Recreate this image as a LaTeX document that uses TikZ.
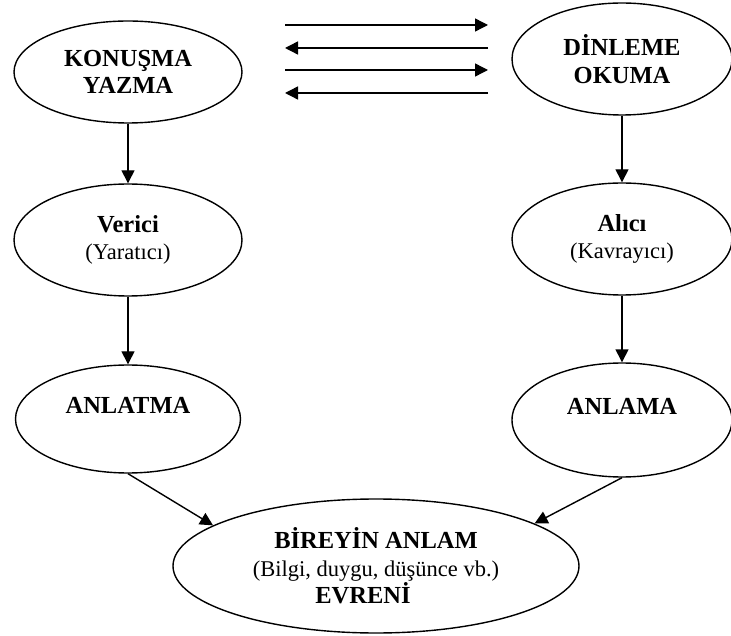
\documentclass[tikz,border=0pt]{standalone}
\usepackage{fontspec}
\setmainfont{Liberation Serif}
\usetikzlibrary{positioning,arrows.meta,shapes.geometric}
\newcommand{\regtxt}[1]{{\fontsize{22.5}{27.5}\selectfont\mdseries #1}}

\begin{document}
\begin{tikzpicture}[
  x=10pt, y=10pt,
  oval/.style={ellipse, draw=black, line width=1.4pt, align=center, inner sep=0pt,
    font=\fontsize{24.5}{27.5}\selectfont\bfseries},
  flow/.style={draw=black, line width=1.4pt, -{Triangle[length=13pt, width=13pt]}}
]
\useasboundingbox (0,0) rectangle (73.1,-63.6);

\node[oval, minimum width=228pt, minimum height=102pt] (kon) at (12.8, -7.2) {KONUŞMA\\YAZMA};
\node[oval, minimum width=220pt, minimum height=112pt] (din) at (62.2, -5.9) {DİNLEME\\OKUMA};
\node[oval, minimum width=228pt, minimum height=112pt] (ver) at (12.8, -24.0) {Verici\\\regtxt{(Yaratıcı)}};
\node[oval, minimum width=220pt, minimum height=112pt] (alc) at (62.2, -23.9) {Alıcı\\\regtxt{(Kavrayıcı)}};
\node[oval, minimum width=225pt, minimum height=108pt] (anlt) at (12.8, -41.9) {ANLATMA\\\mbox{}};
\node[oval, minimum width=220pt, minimum height=114pt] (anlm) at (62.2, -42.0) {ANLAMA\\\mbox{}};
\node[oval, minimum width=406pt, minimum height=134pt] (bir) at (37.6, -56.6)
  {BİREYİN ANLAM\\\regtxt{(Bilgi, duygu, düşünce vb.)}\\\hbox{EVRENİ\kern26pt}};

\coordinate (r1a) at (28.5, -2.5);
\coordinate (r1b) at (48.8, -2.5);
\coordinate (l1a) at (28.5, -4.8);
\coordinate (l1b) at (48.8, -4.8);
\coordinate (r2a) at (28.5, -7.0);
\coordinate (r2b) at (48.8, -7.0);
\coordinate (l2a) at (28.5, -9.3);
\coordinate (l2b) at (48.8, -9.3);
\draw[flow] (r1a) -- (r1b);
\draw[flow] (l1b) -- (l1a);
\draw[flow] (r2a) -- (r2b);
\draw[flow] (l2b) -- (l2a);

\draw[flow] (kon.south) -- (ver.north);
\draw[flow] (din.south) -- (alc.north);
\draw[flow] (ver.south) -- (anlt.north);
\draw[flow] (alc.south) -- (anlm.north);
\draw[flow] (anlt.south) -- (bir.166);
\draw[flow] (anlm.south) -- (bir.15);

\end{tikzpicture}
\end{document}
